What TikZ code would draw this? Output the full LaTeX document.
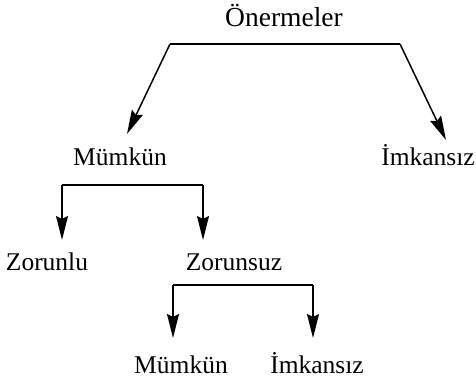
\documentclass[tikz,border=0pt]{standalone}
\usepackage{fontspec}
\setmainfont{Liberation Serif}
\usetikzlibrary{arrows.meta}
\begin{document}
\begin{tikzpicture}[x=1pt,y=-1pt,
  lbl/.style={anchor=base,inner sep=0pt,font=\fontsize{25.5}{30}\selectfont},
  bar/.style={line width=1.8pt},
  arr/.style={line width=1.5pt,-{Stealth[length=24pt,width=12pt,inset=3pt]}}]
\useasboundingbox (0,0) rectangle (476,382);
\node[lbl,font=\fontsize{27.5}{32}\selectfont] (on) at (284,27) {Önermeler};
\node[lbl] (m1) at (120,165) {Mümkün};
\node[lbl] (i1) at (428,165) {İmkansız};
\node[lbl] (zl) at (47,270) {Zorunlu};
\node[lbl] (zs) at (234,270) {Zorunsuz};
\node[lbl] (m2) at (181,373) {Mümkün};
\node[lbl] (i2) at (317,373) {İmkansız};
% bar 1
\coordinate (b1l) at (170,44);
\coordinate (b1r) at (400,44);
\coordinate (t1l) at (127,134);
\coordinate (t1r) at (446,140);
\draw[bar] (b1l) -- (b1r);
\draw[arr] (b1l) -- (t1l);
\draw[arr] (b1r) -- (t1r);
% bar 2
\coordinate (b2l) at (62,185);
\coordinate (b2r) at (203,185);
\draw[bar] (b2l) -- (b2r);
\draw[arr] (b2l) -- (b2l |- 0,240);
\draw[arr] (b2r) -- (b2r |- 0,240);
% bar 3
\coordinate (b3l) at (173,285);
\coordinate (b3r) at (313,285);
\draw[bar] (b3l) -- (b3r);
\draw[arr] (b3l) -- (b3l |- 0,338);
\draw[arr] (b3r) -- (b3r |- 0,338);
\end{tikzpicture}
\end{document}
